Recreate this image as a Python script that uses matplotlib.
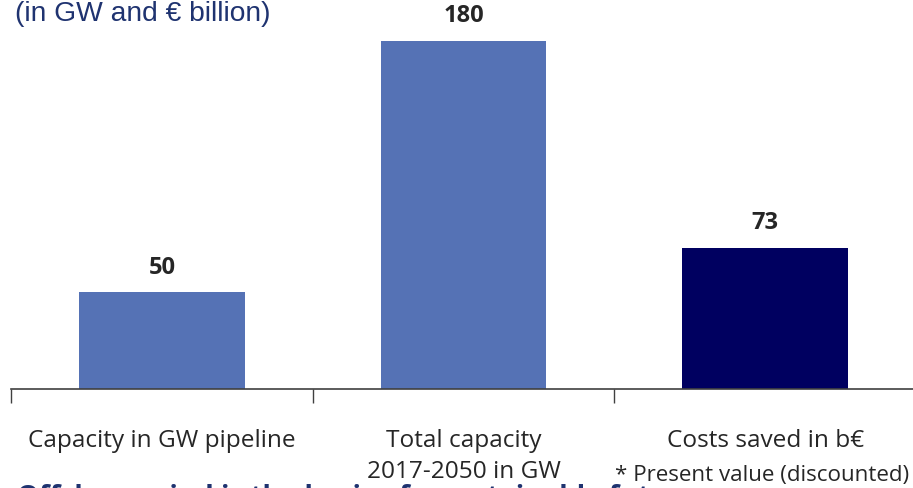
import matplotlib
matplotlib.use("Agg")
import matplotlib.pyplot as plt
from matplotlib.transforms import blended_transform_factory

categories = ["Capacity in GW pipeline", "Total capacity\n2017-2050 in GW", "Costs saved in b\u20ac"]
values = [50, 180, 73]
colors = ["#5572B5", "#5572B5", "#000060"]
value_labels = ["50", "180", "73"]
footnote = "* Present value (discounted)"

W, H = 913, 489
fig = plt.figure(figsize=(W / 100, H / 100), dpi=100)
ax = fig.add_axes([11 / W, (H - 390) / H, 1 - 11 / W, 390 / H])

x = list(range(len(values)))
ax.bar(x, values, width=0.55, color=colors, zorder=2)
ax.set_xlim(-0.5, 2.49)
ax.set_ylim(0, 201.7)
for xi, v, lab in zip(x, values, value_labels):
    ax.text(xi, v + 7, lab, ha="center", va="bottom", fontsize=17, fontweight="bold",
            color="#262626", family="Open Sans")

for s in ["top", "right", "left"]:
    ax.spines[s].set_visible(False)
ax.spines["bottom"].set_color("#404040")
ax.spines["bottom"].set_linewidth(1.2)
ax.set_yticks([])
ax.set_xticks([-0.5, 0.5, 1.5])
ax.set_xticklabels([])
ax.tick_params(axis="x", length=10, width=1, color="#404040", direction="out")

btr = blended_transform_factory(ax.transData, fig.transFigure)
for xi, cat in zip(x, categories):
    for k, line in enumerate(cat.split("\n")):
        ypix = 447 + 31 * k
        fig.text(xi, 1 - ypix / H, line, ha="center", va="baseline",
                 fontsize=17.6, color="#262626", family="Open Sans", transform=btr)

fig.text(1.99, 1 - 481 / H, footnote, ha="center", va="baseline",
         fontsize=16.1, color="#262626", family="Open Sans", transform=btr)

fig.text(15 / W, 1 - 21 / H, "(in GW and \u20ac billion)", ha="left", va="baseline",
         fontsize=20.3, color="#1F3370", family="Liberation Sans")

fig.text(17 / W, 1 - 506 / H, "Offshore wind is the basis of a sustainable future",
         ha="left", va="baseline", fontsize=20, fontweight="bold", color="#1F3370", family="Open Sans")

fig.savefig("out.png", dpi=100)
